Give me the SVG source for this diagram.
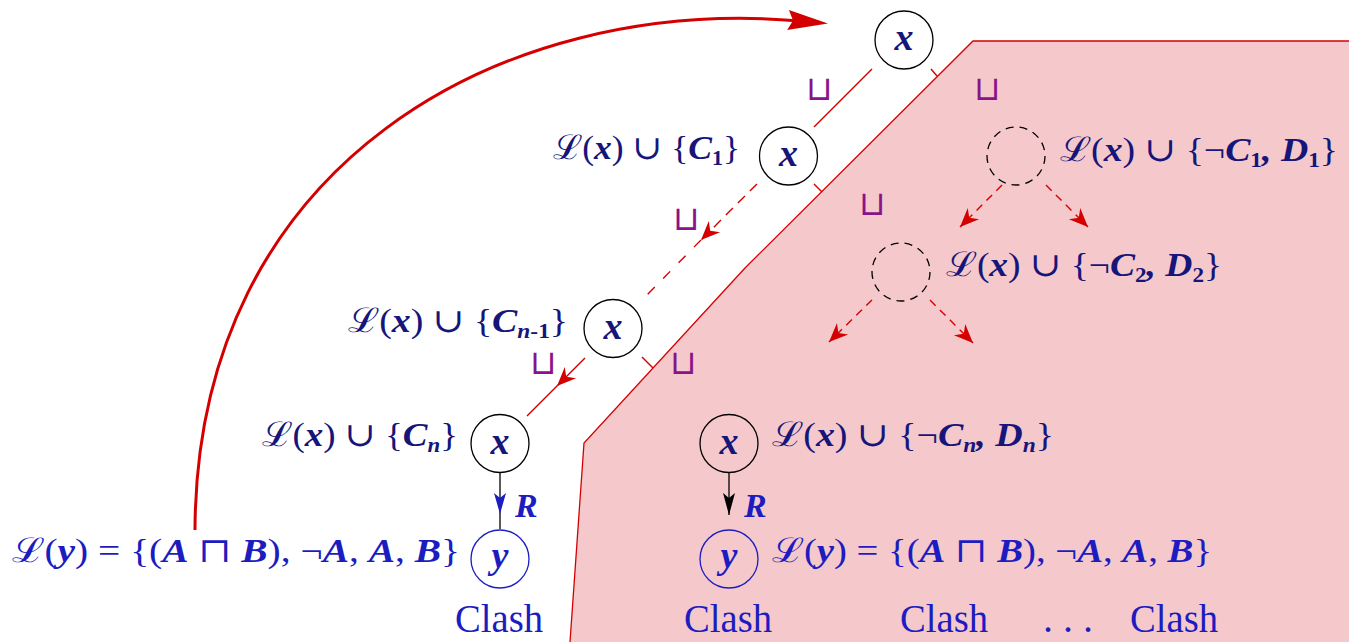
<svg xmlns="http://www.w3.org/2000/svg" width="1349" height="642" viewBox="0 0 1349 642">
<defs>
<style>
.m{font-family:"Liberation Serif","DejaVu Serif",serif;font-size:34px;fill:#15157a}
.mb{font-family:"Liberation Serif","DejaVu Serif",serif;font-size:34px;fill:#1c1cc0}
.v{font-weight:bold;font-style:italic}
.s{font-size:21px;font-weight:bold}
.si{font-size:21px;font-weight:bold;font-style:italic}
.nl{font-family:"Liberation Serif",serif;font-size:38px;font-weight:bold;font-style:italic;text-anchor:middle}
.cl{font-family:"Liberation Serif",serif;font-size:40px;fill:#1c1cc0;text-anchor:middle}
.cup{font-family:"DejaVu Sans",sans-serif;font-size:34px;font-weight:200;fill:#8a128a;text-anchor:middle}
.rl{font-family:"Liberation Serif",serif;font-size:34px;font-weight:bold;font-style:italic;fill:#1c1cc0}
.node{fill:none;stroke:#000;stroke-width:1.3}
.ynode{fill:none;stroke:#1c1cc0;stroke-width:1.3}
.dnode{fill:none;stroke:#000;stroke-width:1.3;stroke-dasharray:8 6}
.red{fill:none;stroke:#d40000;stroke-width:1.4}
.thick{stroke-width:3}
.dash{stroke-dasharray:10 7}
.dash2{stroke-dasharray:10 12}
.dash3{stroke-dasharray:8 6}
</style>
<marker id="ar" viewBox="-20 -9 22 18" refX="0" refY="0" markerWidth="22" markerHeight="18" markerUnits="userSpaceOnUse" orient="auto">
<path d="M0,0 L-19,-8 L-13,0 L-19,8 Z" fill="#d40000"/>
</marker>
<marker id="big" viewBox="-14 -11 44 22" refX="0" refY="0" markerWidth="44" markerHeight="22" markerUnits="userSpaceOnUse" orient="auto">
<path d="M28,0 L-12,-10 L-7,0 L-12,10 Z" fill="#d40000"/>
</marker>
<marker id="ab" viewBox="-25 -8 27 16" refX="0" refY="0" markerWidth="27" markerHeight="16" markerUnits="userSpaceOnUse" orient="auto">
<path d="M0,0 L-22,-6 L-17,0 L-22,6 Z" fill="#000"/>
</marker>
<marker id="abl" viewBox="-25 -8 27 16" refX="0" refY="0" markerWidth="27" markerHeight="16" markerUnits="userSpaceOnUse" orient="auto">
<path d="M0,0 L-21,-6 L-16,0 L-21,6 Z" fill="#1c1cc0"/>
</marker>
</defs>
<rect width="1349" height="642" fill="#fff"/>

<g id="region">
<path d="M973,41 L1349,41 L1349,642 L570,642 L584,443 L745,268 Z" fill="#f5c9cb"/>
<path d="M1349,41 L973,41 L745,268 L584,443 L570,642" fill="none" stroke="#d40000" stroke-width="1.3"/>
</g>

<g id="connectors">
<path class="red thick" d="M195,530 C196,165 500,-5 800,21" marker-end="url(#big)"/>
<path class="red" d="M872,69 L814,127"/>
<path class="red dash" d="M757,184 L701,240" marker-end="url(#ar)"/>
<path class="red dash2" d="M701,240 L642,300"/>
<path class="red" d="M585,358 L557,386 L527,416" marker-mid="url(#ar)"/>
<path class="red" d="M931,69 L937,76"/>
<path class="red" d="M814,184 L822,192"/>
<path class="red" d="M642,357 L653,368"/>
<path class="red dash3" d="M1002,185 L960,227" marker-end="url(#ar)"/>
<path class="red dash3" d="M1046,185 L1088,227" marker-end="url(#ar)"/>
<path class="red dash3" d="M872,300 L829,342" marker-end="url(#ar)"/>
<path class="red dash3" d="M930,300 L973,343" marker-end="url(#ar)"/>
<path d="M500,473 L500,514 L500,529" fill="none" stroke="#000" stroke-width="1.3" marker-mid="url(#abl)"/>
<path d="M729,473 L729,515" fill="none" stroke="#000" stroke-width="1.3" marker-end="url(#ab)"/>
<text class="cup" x="819" y="100">⊔</text>
<text class="cup" x="987" y="100">⊔</text>
<text class="cup" x="686" y="230">⊔</text>
<text class="cup" x="872" y="215">⊔</text>
<text class="cup" x="543" y="374">⊔</text>
<text class="cup" x="683" y="374">⊔</text>
<text class="rl" x="515" y="517">R</text>
<text class="rl" x="744" y="517">R</text>
</g>

<g id="n-top">
<circle class="node" cx="904" cy="40" r="29"/>
<text class="nl" x="904" y="50" fill="#15157a">x</text>
</g>
<g id="n-c1">
<circle class="node" cx="788.5" cy="156" r="29"/>
<text class="nl" x="788.5" y="166" fill="#15157a">x</text>
<text class="m" x="553" y="159" textLength="187" lengthAdjust="spacingAndGlyphs">ℒ(<tspan class="v">x</tspan>) ∪ {<tspan class="v">C</tspan><tspan class="s" dy="6">1</tspan><tspan dy="-6">}</tspan></text>
</g>
<g id="n-d1">
<circle class="dnode" cx="1016" cy="156" r="29"/>
<text class="m" x="1060" y="161" textLength="278" lengthAdjust="spacingAndGlyphs">ℒ(<tspan class="v">x</tspan>) ∪ {¬<tspan class="v">C</tspan><tspan class="s" dy="6">1</tspan><tspan dy="-6" class="v">, D</tspan><tspan class="s" dy="6">1</tspan><tspan dy="-6">}</tspan></text>
</g>
<g id="n-d2">
<circle class="dnode" cx="901" cy="272" r="29"/>
<text class="m" x="946" y="276" textLength="276" lengthAdjust="spacingAndGlyphs">ℒ(<tspan class="v">x</tspan>) ∪ {¬<tspan class="v">C</tspan><tspan class="s" dy="6">2</tspan><tspan dy="-6" class="v">, D</tspan><tspan class="s" dy="6">2</tspan><tspan dy="-6">}</tspan></text>
</g>
<g id="n-cn1">
<circle class="node" cx="613" cy="328.5" r="29"/>
<text class="nl" x="613" y="338.5" fill="#15157a">x</text>
<text class="m" x="348" y="332" textLength="220" lengthAdjust="spacingAndGlyphs">ℒ(<tspan class="v">x</tspan>) ∪ {<tspan class="v">C</tspan><tspan class="si" dy="6">n</tspan><tspan class="s">-1</tspan><tspan dy="-6">}</tspan></text>
</g>
<g id="n-cn">
<circle class="node" cx="500" cy="443.5" r="29"/>
<text class="nl" x="500" y="453.5" fill="#15157a">x</text>
<text class="m" x="262" y="446" textLength="196" lengthAdjust="spacingAndGlyphs">ℒ(<tspan class="v">x</tspan>) ∪ {<tspan class="v">C</tspan><tspan class="si" dy="6">n</tspan><tspan dy="-6">}</tspan></text>
</g>
<g id="n-y1">
<circle class="ynode" cx="500" cy="559" r="29"/>
<text class="nl" x="500" y="568" fill="#1c1cc0">y</text>
<text class="mb" x="12" y="562" textLength="448" lengthAdjust="spacingAndGlyphs">ℒ(<tspan class="v">y</tspan>) = {(<tspan class="v">A</tspan> ⊓ <tspan class="v">B</tspan>), ¬<tspan class="v">A</tspan>, <tspan class="v">A</tspan>, <tspan class="v">B</tspan>}</text>
<text class="cl" x="499" y="632" textLength="88" lengthAdjust="spacingAndGlyphs">Clash</text>
</g>
<g id="n-xn">
<circle class="node" cx="729" cy="443.5" r="29"/>
<text class="nl" x="729" y="453.5" fill="#15157a">x</text>
<text class="m" x="772" y="446" textLength="282" lengthAdjust="spacingAndGlyphs">ℒ(<tspan class="v">x</tspan>) ∪ {¬<tspan class="v">C</tspan><tspan class="si" dy="6">n</tspan><tspan dy="-6" class="v">, D</tspan><tspan class="si" dy="6">n</tspan><tspan dy="-6">}</tspan></text>
</g>
<g id="n-y2">
<circle class="ynode" cx="729" cy="559" r="29"/>
<text class="nl" x="729" y="568" fill="#1c1cc0">y</text>
<text class="mb" x="772" y="562" textLength="440" lengthAdjust="spacingAndGlyphs">ℒ(<tspan class="v">y</tspan>) = {(<tspan class="v">A</tspan> ⊓ <tspan class="v">B</tspan>), ¬<tspan class="v">A</tspan>, <tspan class="v">A</tspan>, <tspan class="v">B</tspan>}</text>
<text class="cl" x="728" y="632" textLength="88" lengthAdjust="spacingAndGlyphs">Clash</text>
</g>
<g id="clashes">
<text class="cl" x="944" y="632" textLength="88" lengthAdjust="spacingAndGlyphs">Clash</text>
<text class="cl" x="1068" y="632">. . .</text>
<text class="cl" x="1174" y="632" textLength="88" lengthAdjust="spacingAndGlyphs">Clash</text>
</g>
</svg>
